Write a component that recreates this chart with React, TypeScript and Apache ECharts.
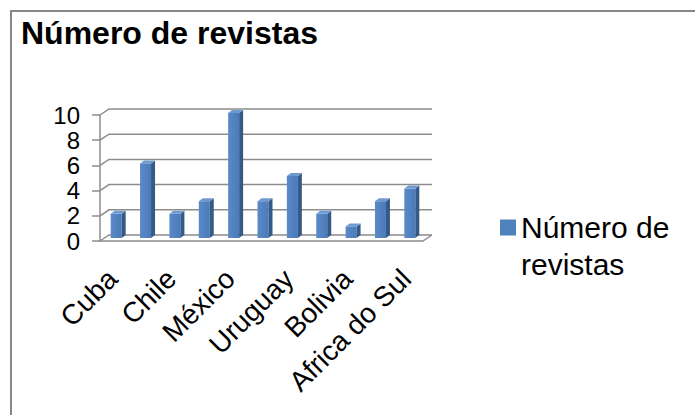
import React, { useEffect, useRef } from 'react';
import * as echarts from 'echarts';

// Only every other category name is visible in the reference; hidden ones are placeholders.
const categories = ['Cuba', 'Brasil', 'Chile', 'Argentina', 'México', 'Colômbia', 'Uruguay', 'Venezuela', 'Bolivia', 'Portugal', 'Africa do Sul'];
const values = [2, 6, 2, 3, 10, 3, 5, 2, 1, 3, 4];
const yTicks = [0, 2, 4, 6, 8, 10];
const seriesName = 'Número de revistas';
const titleText = 'Número de revistas';

const FONT = "'Liberation Sans', Arial, Helvetica, sans-serif";
const GRID_COLOR = '#8c8c8c';
const DX = 9;
const DY = -6;

export default function App() {
  const ref = useRef<HTMLDivElement>(null);
  useEffect(() => {
    const chart = echarts.init(ref.current!, null, { renderer: 'svg' });

    const gridRender = (params: any, api: any) => {
      const cs = params.coordSys;
      const v = api.value(1);
      const y = api.coord([0, v])[1];
      const left = cs.x;
      const right = cs.x + cs.width;
      const style = { stroke: GRID_COLOR, lineWidth: 1.5, fill: 'none' };
      const children: any[] = [
        { type: 'polyline', shape: { points: [[left, y], [left + DX, y + DY], [right + DX, y + DY]] }, style },
      ];
      if (v === 0) {
        children.push({ type: 'line', shape: { x1: right, y1: y, x2: right + DX, y2: y + DY }, style });
      }
      return { type: 'group', children };
    };

    const barRender = (params: any, api: any) => {
      const x = api.coord([api.value(0), 0])[0];
      const yb = api.coord([api.value(0), 0])[1] - 3;
      const yt = api.coord([api.value(0), api.value(1)])[1] - 2;
      const fl = x - 4;
      const fr = x + 7;
      const d = 4;
      const dy = 3;
      return {
        type: 'group',
        children: [
          {
            type: 'rect',
            shape: { x: fl, y: yt, width: fr - fl, height: yb - yt },
            style: {
              fill: new echarts.graphic.LinearGradient(0, 0, 1, 0, [
                { offset: 0, color: '#5A8BC8' },
                { offset: 1, color: '#4A7BB8' },
              ]),
            },
          },
          {
            type: 'polygon',
            shape: { points: [[fr, yt], [fr + d, yt - dy], [fr + d, yb - dy], [fr, yb]] },
            style: { fill: '#365A87' },
          },
          {
            type: 'polygon',
            shape: { points: [[fl, yt], [fr, yt], [fr + d, yt - dy], [fl + d, yt - dy]] },
            style: { fill: '#6F9AD0' },
          },
        ],
      };
    };

    const option: any = {
      animation: false,
      backgroundColor: '#ffffff',
      title: {
        text: titleText,
        left: 16,
        top: 12,
        textStyle: { fontFamily: FONT, fontSize: 32, fontWeight: 'bold', color: '#000' },
      },
      legend: {
        data: [seriesName],
        left: 500,
        top: 172,
        padding: 0,
        icon: 'rect',
        itemWidth: 16,
        itemHeight: 16,
        itemGap: 0,
        // leading blank line keeps the first text line level with the icon
        formatter: () => '\nNúmero de\nrevistas',
        textStyle: {
          fontFamily: FONT,
          fontSize: 30,
          color: '#000',
          lineHeight: 37,
        },
      },
      grid: { left: 100, top: 115, width: 323, height: 126, containLabel: false },
      xAxis: {
        type: 'category',
        data: categories,
        axisLine: { lineStyle: { color: GRID_COLOR, width: 1.5 } },
        axisTick: { interval: 0, length: 6, lineStyle: { color: GRID_COLOR, width: 1.5 } },
        axisLabel: {
          interval: 1,
          rotate: 45,
          margin: 31,
          fontSize: 28,
          fontFamily: FONT,
          color: '#000',
          padding: [0, 3, 0, 0],
        },
        splitLine: { show: false },
      },
      yAxis: {
        type: 'value',
        min: 0,
        max: 10,
        interval: 2,
        axisLine: { show: true, lineStyle: { color: GRID_COLOR, width: 1.5 } },
        axisTick: { show: true, length: 8, lineStyle: { color: GRID_COLOR, width: 1.5 } },
        splitLine: { show: false },
        axisLabel: { margin: 20, fontSize: 24, fontFamily: FONT, color: '#000' },
      },
      series: [
        {
          type: 'custom',
          name: 'grade',
          silent: true,
          data: yTicks.map((v) => [0, v]),
          encode: { x: 0, y: 1 },
          renderItem: gridRender,
          z: 1,
        },
        {
          type: 'custom',
          name: seriesName,
          data: values.map((v, i) => [i, v]),
          encode: { x: 0, y: 1 },
          renderItem: barRender,
          itemStyle: { color: '#4F81BD' },
          z: 2,
        },
      ],
      graphic: [
        {
          type: 'rect',
          shape: { x: 11, y: 11, width: 720, height: 440 },
          style: { fill: 'none', stroke: '#868686', lineWidth: 2 },
          silent: true,
          z: 0,
        },
      ],
    };
    chart.setOption(option);
    return () => chart.dispose();
  }, []);
  return (
    <div
      ref={ref}
      style={{ position: 'fixed', left: 0, top: 0, width: 695, height: 415, background: '#fff' }}
    />
  );
}
